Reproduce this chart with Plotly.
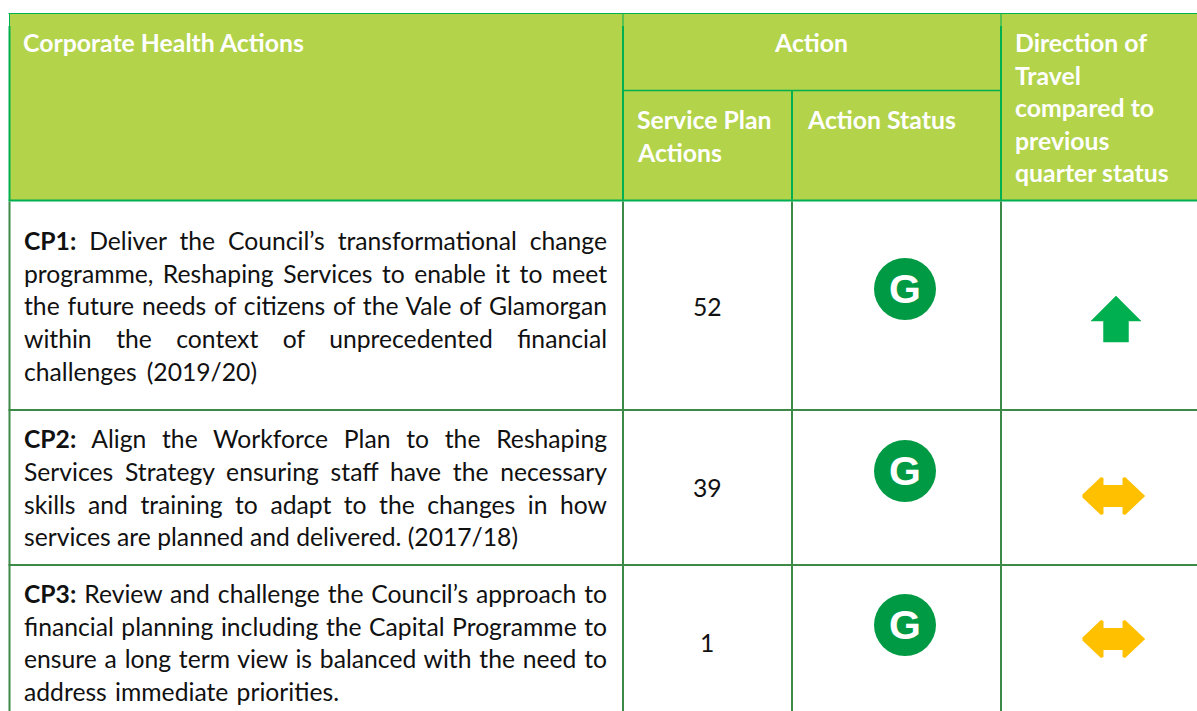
import json
import re
import plotly.graph_objects as go

# ---------- data ----------
action_ids = ["CP1", "CP2", "CP3"]
action_lines = [
    ["<b>CP1:</b> Deliver the Council’s transformational change",
     "programme, Reshaping Services to enable it to meet",
     "the future needs of citizens of the Vale of Glamorgan",
     "within the context of unprecedented financial",
     "challenges (2019/20)"],
    ["<b>CP2:</b> Align the Workforce Plan to the Reshaping",
     "Services Strategy ensuring staff have the necessary",
     "skills and training to adapt to the changes in how",
     "services are planned and delivered. (2017/18)"],
    ["<b>CP3:</b> Review and challenge the Council’s approach to",
     "financial planning including the Capital Programme to",
     "ensure a long term view is balanced with the need to",
     "address immediate priorities."],
]
service_plan_actions = [52, 39, 1]
action_status = ["G", "G", "G"]
direction = ["up", "same", "same"]

header_main = "Corporate Health Actions"
header_action = "Action"
header_service = ["Service Plan", "Actions"]
header_status = "Action Status"
header_direction = ["Direction of", "Travel", "compared to", "previous", "quarter status"]

# ---------- layout geometry ----------
W, H = 1197, 711
LEFT, COL1, COL2, COL3 = 9.5, 623, 792, 1001
TOP, SUB, HEAD_BOTTOM = 13.5, 90.5, 200.5
ROW_LINES = [410, 565]
LINE_Y = [[240, 273, 305.5, 338, 371], [438, 471, 504, 536.5], [593, 626, 658.5, 691]]
NUM_Y = [306, 487, 642]
STATUS_XY = [(905, 289), (905, 471), (905, 625)]
ARROW_XY = [(1116, 319), (1113, 496), (1113, 639)]
TEXT_X, TEXT_RIGHT = 24, 607
LAST_LINE_WIDTH = [233, 494, 315]

HEAD_FILL = "#B2D34A"
HEAD_LINE = "#00B050"
BODY_LINE = "#3C8A46"
BODY_FONT = dict(family="Lato, Carlito, sans-serif", size=24.7, color="#111111")
HEAD_FONT = dict(family="Lato, Carlito, sans-serif", size=24.8, color="#FFFFFF")

fig = go.Figure()
shapes, notes = [], []


def line(x0, y0, x1, y1, color, width):
    shapes.append(dict(type="line", x0=x0, y0=y0, x1=x1, y1=y1, xref="x", yref="y",
                       line=dict(color=color, width=width), layer="above"))


def text(x, y, s, font, anchor="left"):
    notes.append(dict(x=x, y=y, text=s, xref="x", yref="y", showarrow=False, xanchor=anchor,
                      yanchor="middle", align=anchor, font=font, borderpad=0, borderwidth=0))


shapes.append(dict(type="rect", x0=LEFT, y0=TOP, x1=W, y1=HEAD_BOTTOM, xref="x", yref="y",
                   fillcolor=HEAD_FILL, line=dict(width=0), layer="below"))

line(LEFT - 1, TOP, W, TOP, HEAD_LINE, 1)
line(COL1, SUB, COL3, SUB, HEAD_LINE, 1.5)
line(LEFT - 1, HEAD_BOTTOM, W, HEAD_BOTTOM, HEAD_LINE, 2)
line(LEFT, TOP, LEFT, 26, HEAD_LINE, 1)
line(LEFT, 26, LEFT, HEAD_BOTTOM, HEAD_LINE, 2)
for cx in (COL1, COL3):
    line(cx, TOP, cx, 26, HEAD_LINE, 1)
    line(cx, 26, cx, HEAD_BOTTOM, HEAD_LINE, 2)
line(COL2, SUB, COL2, HEAD_BOTTOM, HEAD_LINE, 2)
for cx in (LEFT, COL1, COL2, COL3):
    line(cx, HEAD_BOTTOM + 1, cx, H, BODY_LINE, 2)
for ry in ROW_LINES:
    line(LEFT - 1, ry, W, ry, BODY_LINE, 2)

# header text
text(23, 42, f"<b>{header_main}</b>", HEAD_FONT)
text(811, 42, f"<b>{header_action}</b>", HEAD_FONT, "center")
for s, y in zip(header_service, [119, 152]):
    text(637, y, f"<b>{s}</b>", HEAD_FONT)
text(807, 119, f"<b>{header_status}</b>", HEAD_FONT)
for s, y in zip(header_direction, [42, 75, 107, 140, 172]):
    text(1015, y, f"<b>{s}</b>", HEAD_FONT)

# body text
targets = {}
for lines, ys, n, ny, last in zip(action_lines, LINE_Y, service_plan_actions, NUM_Y, LAST_LINE_WIDTH):
    for i, (s, y) in enumerate(zip(lines, ys)):
        text(TEXT_X, y, s, BODY_FONT)
        targets[re.sub(r"</?b>", "", s)] = (TEXT_RIGHT - TEXT_X) if i < len(lines) - 1 else last
    text(707, ny, str(n), BODY_FONT, "center")

# status discs
fig.add_trace(go.Scatter(
    x=[p[0] for p in STATUS_XY], y=[p[1] for p in STATUS_XY], mode="markers",
    marker=dict(size=62, color="#009A44", line=dict(width=0)),
    hoverinfo="skip", showlegend=False))
for s, (cx, cy) in zip(action_status, STATUS_XY):
    text(cx, cy, f"<b>{s}</b>", dict(family="Liberation Sans, Arial, sans-serif", size=41, color="#FFFFFF"),
         "center")

# direction arrows
UP = [(0, -23), (25, 2), (12.5, 2), (12.5, 23), (-12.5, 23), (-12.5, 2), (-25, 2), (0, -23)]
SAME = [(-30, 0), (-11, -18), (-11, -9.5), (11, -9.5), (11, -18), (30, 0),
        (11, 18), (11, 9.5), (-11, 9.5), (-11, 18), (-30, 0)]
for d, (cx, cy) in zip(direction, ARROW_XY):
    outline = UP if d == "up" else SAME
    color = "#00B050" if d == "up" else "#FFC000"
    fig.add_trace(go.Scatter(
        x=[cx + p[0] for p in outline], y=[cy + p[1] for p in outline], mode="lines",
        fill="toself", fillcolor=color,
        line=dict(color=color, width=0.5 if d == "up" else 3), hoverinfo="skip", showlegend=False))

fig.update_layout(
    width=W, height=H, margin=dict(l=0, r=0, t=0, b=0), autosize=False,
    paper_bgcolor="#FFFFFF", plot_bgcolor="#FFFFFF", showlegend=False,
    shapes=shapes, annotations=notes,
    xaxis=dict(range=[0, W], visible=False, fixedrange=True),
    yaxis=dict(range=[H, 0], visible=False, fixedrange=True),
)

post = """
document.body.style.margin = '0';
var widths = %s;
function justify() {
  document.querySelectorAll('text.annotation-text').forEach(function (el) {
    var t = el.textContent;
    if (!(t in widths)) return;
    el.style.wordSpacing = '0px';
    var n = (t.match(/ /g) || []).length;
    if (!n) return;
    el.style.wordSpacing = ((widths[t] - el.getComputedTextLength()) / n) + 'px';
  });
}
justify();
var gd = document.getElementById('{plot_id}');
if (gd && gd.on) gd.on('plotly_afterplot', justify);
setTimeout(justify, 100);
if (document.fonts && document.fonts.ready) document.fonts.ready.then(justify);
""" % json.dumps(targets, ensure_ascii=False)

fig.write_html("out.html", config=dict(displayModeBar=False), post_script=post)
